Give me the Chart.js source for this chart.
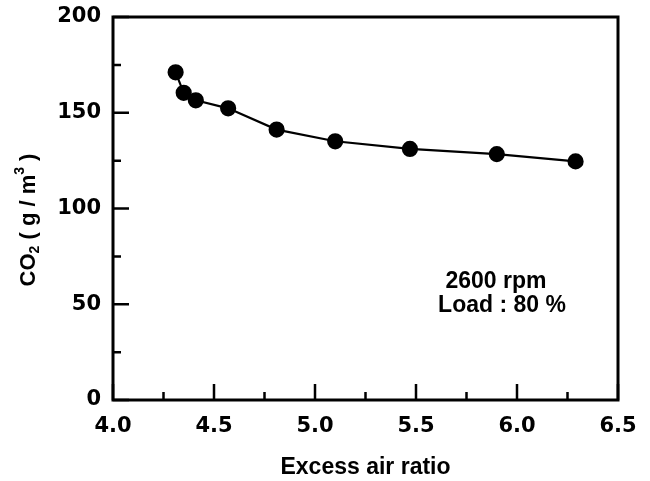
<!DOCTYPE html>
<html>
<head>
<meta charset="utf-8">
<script src="https://cdn.jsdelivr.net/npm/chart.js@4/dist/chart.umd.min.js"></script>
<style>
  html, body { margin: 0; padding: 0; background: #fff; }
  #wrap { width: 650px; height: 481px; }
</style>
</head>
<body>
<div id="wrap"><canvas id="chart"></canvas></div>
<script>
// values
const excessAir = [4.31, 4.35, 4.41, 4.57, 4.81, 5.10, 5.47, 5.90, 6.29];
const co2 = [171.1, 160.4, 156.5, 152.3, 141.2, 135.1, 131.1, 128.4, 124.6];
const xTicks = [4.0, 4.5, 5.0, 5.5, 6.0, 6.5];
const yTicks = [0, 50, 100, 150, 200];
const noteLines = ["2600 rpm", "Load : 80 %"];

const FONT = "'Liberation Sans', Arial, sans-serif";
const TICK_FONT = "'DejaVu Sans', sans-serif";

// frame, inward ticks (major + minor), y title with sub/superscripts, note text
const decorations = {
	id: "decorations",
	afterDraw(chart) {
		const ctx = chart.ctx;
		const a = chart.chartArea;
		const xs = chart.scales.x, ys = chart.scales.y;
		ctx.save();
		ctx.strokeStyle = "#000";
		ctx.lineWidth = 3;
		ctx.strokeRect(a.left, a.top, a.right - a.left, a.bottom - a.top);

		ctx.lineWidth = 2.5;
		ctx.beginPath();
		for (let v = 4.0; v <= 6.5001; v += 0.25) {
			const px = xs.getPixelForValue(v);
			const len = Math.abs(v * 2 - Math.round(v * 2)) < 1e-6 ? 16 : 8;
			ctx.moveTo(px, a.bottom);
			ctx.lineTo(px, a.bottom - len);
		}
		for (let v = 0; v <= 200; v += 25) {
			const py = ys.getPixelForValue(v);
			const len = v % 50 === 0 ? 16 : 8;
			ctx.moveTo(a.left, py);
			ctx.lineTo(a.left + len, py);
		}
		ctx.stroke();

		// y title: CO2 ( g / m3 )
		ctx.fillStyle = "#000";
		ctx.translate(29, 220);
		ctx.rotate(-Math.PI / 2);
		ctx.textBaseline = "middle";
		const parts = [
			["CO", "bold 22px " + FONT, 0],
			["2", "bold 14px " + FONT, 6],
			[" ( g / m", "bold 22px " + FONT, 0],
			["3", "bold 14px " + FONT, -9],
			[" )", "bold 22px " + FONT, 0]
		];
		let total = 0;
		parts.forEach(p => { ctx.font = p[1]; total += ctx.measureText(p[0]).width; });
		let x = -total / 2;
		ctx.textAlign = "left";
		parts.forEach(p => {
			ctx.font = p[1];
			ctx.fillText(p[0], x, p[2]);
			x += ctx.measureText(p[0]).width;
		});
		ctx.restore();

		ctx.save();
		ctx.fillStyle = "#000";
		ctx.font = "bold 23px " + FONT;
		ctx.textAlign = "center";
		ctx.textBaseline = "middle";
		ctx.fillText(noteLines[0], 496, 282);
		ctx.fillText(noteLines[1], 502, 306);
		ctx.restore();
	}
};

new Chart("chart", {
	type: "scatter",
	data: {
		datasets: [{
			data: excessAir.map((v, i) => ({ x: v, y: co2[i] })),
			showLine: true,
			borderColor: "#000",
			borderWidth: 2.2,
			backgroundColor: "#000",
			pointRadius: 7,
			pointHoverRadius: 7,
			tension: 0
		}]
	},
	options: {
		responsive: true,
		maintainAspectRatio: false,
		animation: false,
		events: [],
		layout: { padding: { top: 17, right: 32, left: 0, bottom: 0 } },
		plugins: { legend: { display: false }, tooltip: { enabled: false } },
		scales: {
			x: {
				type: "linear",
				min: 4.0,
				max: 6.5,
				afterBuildTicks: s => { s.ticks = xTicks.map(v => ({ value: v })); },
				afterFit: s => { s.height = 81; s.paddingLeft = 0; s.paddingRight = 0; },
				grid: { display: false, drawTicks: false },
				border: { display: false },
				ticks: {
					padding: 14,
					color: "#000",
					font: { family: TICK_FONT, size: 21, weight: "bold" },
					callback: v => v.toFixed(1)
				},
				title: {
					display: true,
					text: "Excess air ratio",
					color: "#000",
					font: { family: FONT, size: 23, weight: "bold" },
					padding: { top: 4, bottom: 0 }
				}
			},
			y: {
				min: 0,
				max: 200,
				afterBuildTicks: s => { s.ticks = yTicks.map(v => ({ value: v })); },
				afterFit: s => { s.width = 113; s.paddingTop = 0; s.paddingBottom = 0; },
				grid: { display: false, drawTicks: false },
				border: { display: false },
				ticks: {
					padding: 12,
					color: "#000",
					font: { family: TICK_FONT, size: 21, weight: "bold" }
				}
			}
		}
	},
	plugins: [decorations]
});
</script>
</body>
</html>
